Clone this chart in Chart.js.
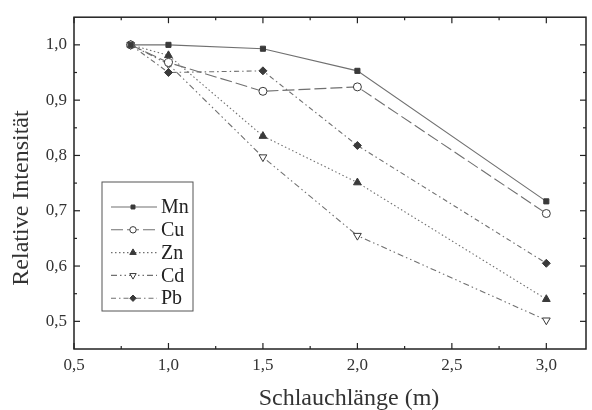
<!DOCTYPE html>
<html>
<head>
<meta charset="utf-8">
<script src="https://cdn.jsdelivr.net/npm/chart.js@4/dist/chart.umd.min.js"></script>
<style>
  html, body { margin: 0; padding: 0; background: #fff; }
  #wrap { width: 592px; height: 410px; }
</style>
</head>
<body>
<div id="wrap"><canvas id="chart"></canvas></div>
<script>
// Schlauchlänge (m)
const lengths = [0.8, 1.0, 1.5, 2.0, 3.0];

// relative intensities per element
const mn = [1.000, 1.000, 0.993, 0.953, 0.717];
const cu = [1.000, 0.968, 0.916, 0.924, 0.695];
const zn = [1.000, 0.981, 0.835, 0.751, 0.540];
const cd = [1.000, 0.965, 0.797, 0.655, 0.502];
const pb = [1.000, 0.950, 0.953, 0.818, 0.605];

const xTicks = [0.5, 1.0, 1.5, 2.0, 2.5, 3.0];
const yTicks = [0.5, 0.6, 0.7, 0.8, 0.9, 1.0];

const xTitle = 'Schlauchlänge (m)';
const yTitle = 'Relative Intensität';

const serif = "'Liberation Serif', 'DejaVu Serif', serif";
const lineGray = '#707070';
const markGray = '#3a3a3a';

function series(label, values, style) {
  return Object.assign({
    label: label,
    data: lengths.map((x, i) => ({ x: x, y: values[i] })),
    borderColor: lineGray,
    borderWidth: 1.1,
    pointBorderColor: markGray,
    pointBorderWidth: 1,
    pointRadius: 4,
    fill: false,
    tension: 0
  }, style);
}

const datasets = [
  series('Mn', mn, { borderDash: [], pointStyle: 'rect', pointBackgroundColor: markGray, pointRadius: 3.6 }),
  series('Cu', cu, { borderDash: [12, 4], pointStyle: 'circle', pointBackgroundColor: '#fff', pointRadius: 4 }),
  series('Zn', zn, { borderDash: [1.5, 2.5], pointStyle: 'triangle', pointBackgroundColor: markGray, pointRadius: 4.5 }),
  series('Cd', cd, { borderDash: [6, 3, 1.5, 3, 1.5, 3], pointStyle: 'triangle', pointRotation: 180, pointBackgroundColor: '#fff', pointRadius: 4.5 }),
  series('Pb', pb, { borderDash: [5, 3, 1.5, 3], pointStyle: 'rectRot', pointBackgroundColor: markGray, pointRadius: 4 })
];

const fmt = v => v.toFixed(1).replace('.', ',');

// frame, inward ticks on all four sides, axis titles and the legend box
const framePlugin = {
  id: 'frame',
  afterDatasetsDraw(chart) {
    const { ctx, chartArea: a, scales: { x, y } } = chart;
    ctx.save();
    ctx.strokeStyle = '#222';
    ctx.lineWidth = 1.5;
    ctx.strokeRect(a.left, a.top, a.right - a.left, a.bottom - a.top);

    ctx.lineWidth = 1.2;
    const tick = (x1, y1, x2, y2) => { ctx.beginPath(); ctx.moveTo(x1, y1); ctx.lineTo(x2, y2); ctx.stroke(); };
    xTicks.forEach(v => {
      const px = x.getPixelForValue(v);
      tick(px, a.bottom, px, a.bottom - 6);
      tick(px, a.top, px, a.top + 6);
      const m = x.getPixelForValue(v + 0.25);
      if (m < a.right) {
        tick(m, a.bottom, m, a.bottom - 3);
        tick(m, a.top, m, a.top + 3);
      }
    });
    yTicks.forEach(v => {
      const py = y.getPixelForValue(v);
      tick(a.left, py, a.left + 6, py);
      tick(a.right, py, a.right - 6, py);
      const m = y.getPixelForValue(v + 0.05);
      if (m > a.top) {
        tick(a.left, m, a.left + 3, m);
        tick(a.right, m, a.right - 3, m);
      }
    });

    // axis titles (slightly off-centre in the original)
    ctx.fillStyle = '#333';
    ctx.font = '24px ' + serif;
    ctx.textAlign = 'center';
    ctx.textBaseline = 'middle';
    ctx.fillText(xTitle, 349, 399);
    ctx.save();
    ctx.translate(22, 198);
    ctx.rotate(-Math.PI / 2);
    ctx.fillText(yTitle, 0, 0);
    ctx.restore();

    // legend
    const bx = 102, by = 182, bw = 91, bh = 129;
    ctx.lineWidth = 1;
    ctx.strokeStyle = '#555';
    ctx.fillStyle = '#fff';
    ctx.fillRect(bx, by, bw, bh);
    ctx.strokeRect(bx, by, bw, bh);
    chart.data.datasets.forEach((ds, i) => {
      const ry = 207 + i * 22.8;
      ctx.strokeStyle = ds.borderColor;
      ctx.lineWidth = ds.borderWidth;
      ctx.setLineDash(ds.borderDash);
      ctx.beginPath();
      ctx.moveTo(111, ry);
      ctx.lineTo(157, ry);
      ctx.stroke();
      ctx.setLineDash([]);
      ctx.fillStyle = ds.pointBackgroundColor;
      ctx.strokeStyle = ds.pointBorderColor;
      ctx.lineWidth = 1;
      Chart.helpers.drawPoint(ctx, {
        pointStyle: ds.pointStyle,
        rotation: ds.pointRotation || 0,
        radius: ds.pointRadius - 0.8,
        borderWidth: 1
      }, 133, ry);
      ctx.fillStyle = '#222';
      ctx.font = '20px ' + serif;
      ctx.textBaseline = 'middle';
      ctx.textAlign = 'left';
      ctx.fillText(ds.label, 161, ry + 1);
    });
    ctx.restore();
  }
};

new Chart(document.getElementById('chart'), {
  type: 'line',
  data: { datasets: datasets },
  options: {
    responsive: true,
    maintainAspectRatio: false,
    animation: false,
    layout: { padding: { top: 15, right: 6, left: 0, bottom: 0 } },
    plugins: {
      legend: { display: false },
      tooltip: { enabled: false }
    },
    scales: {
      x: {
        type: 'linear',
        min: 0.5,
        max: 3.21,
        afterFit: s => { s.height = 61; },
        afterBuildTicks: s => { s.ticks = xTicks.map(v => ({ value: v })); },
        grid: { display: false, drawTicks: false },
        border: { display: false },
        ticks: {
          color: '#333',
          font: { family: serif, size: 17 },
          padding: 6,
          maxRotation: 0,
          callback: v => fmt(v)
        },
        title: { display: false }
      },
      y: {
        min: 0.45,
        max: 1.05,
        afterFit: s => { s.width = 74; },
        afterBuildTicks: s => { s.ticks = yTicks.map(v => ({ value: v })); },
        grid: { display: false, drawTicks: false },
        border: { display: false },
        ticks: {
          color: '#333',
          font: { family: serif, size: 17 },
          padding: 7,
          callback: v => fmt(v)
        },
        title: { display: false }
      }
    }
  },
  plugins: [framePlugin]
});
</script>
</body>
</html>
